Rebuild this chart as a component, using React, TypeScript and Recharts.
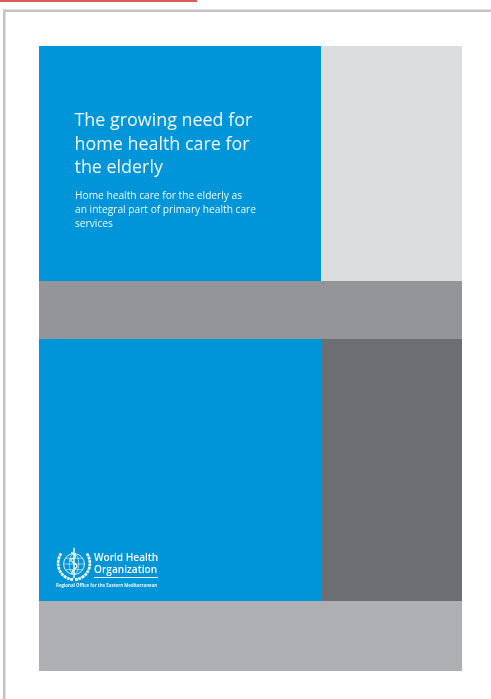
import React from "react";
import { ComposedChart, XAxis, YAxis, ReferenceArea } from "recharts";

const panelNames = ["rule", "topEdge", "leftEdge", "blueTop", "lightTop", "band", "blueLow", "darkLow", "foot"];
const panelX0 = [0, 3, 3, 39, 321, 39, 39, 321, 39];
const panelX1 = [197, 491, 5.5, 321, 462, 462, 321, 462, 462];
const panelY0 = [0, 9.5, 9.5, 46, 46, 281, 339, 339, 601];
const panelY1 = [2, 12, 699, 281, 281, 339, 601, 601, 671];
const panelFill = ["#DE5A5A", "#C4C4C4", "#C4C4C4", "#0095D9", "#DCDDDF", "#939598", "#0095D9", "#6D6E71", "#ADAFB2"];

const titleLines = ["The growing need for", "home health care for", "the elderly"];
const subtitleLines = ["Home health care for the elderly as", "an integral part of primary health care", "services"];
const orgLines = ["World Health", "Organization"];
const regionLine = "Regional Office for the Eastern Mediterranean";

const chartData = [{ x: 0, y: 0 }, { x: 491, y: 699 }];
const font = "'Open Sans', sans-serif";

const Line = ({ top, left, size, weight, children, color = "#F2FAFE", ls = 0 }: any) => (
  <div
    style={{
      position: "absolute",
      top,
      left,
      fontFamily: font,
      fontSize: size,
      fontWeight: weight,
      lineHeight: 1,
      color,
      letterSpacing: ls,
      whiteSpace: "nowrap",
      filter: "blur(0.3px)",
    }}
  >
    {children}
  </div>
);

const Emblem = () => (
  <svg
    width={38}
    height={38}
    viewBox="0 0 40 40"
    style={{ position: "absolute", left: 54.5, top: 545, filter: "blur(0.45px)" }}
    fill="none"
    stroke="#fff"
  >
    <circle cx={20} cy={20} r={11} strokeWidth={0.9} />
    <ellipse cx={20} cy={20} rx={5} ry={11} strokeWidth={0.6} />
    <path d="M9 20H31M11 14H29M11 26H29" strokeWidth={0.6} />
    <path d="M20 3V35" strokeWidth={1.5} />
    <path d="M17 8C23 10 23 13 17 15C13 17 25 19 23 23C21 26 17 26 18 30" strokeWidth={1.3} />
    <path d="M6.5 9C1.5 16 2 27 10 33C13 35.5 16 36 19 36.5" strokeWidth={2.8} strokeDasharray="3 0.7" />
    <path d="M33.5 9C38.5 16 38 27 30 33C27 35.5 24 36 21 36.5" strokeWidth={2.8} strokeDasharray="3 0.7" />
  </svg>
);

export default function App() {
  return (
    <div style={{ position: "absolute", left: 0, top: 0, width: 491, height: 699, overflow: "hidden", background: "#fff" }}>
      <ComposedChart width={491} height={699} data={chartData} margin={{ top: 0, right: 0, bottom: 0, left: 0 }}>
        <XAxis type="number" dataKey="x" domain={[0, 491]} hide />
        <YAxis type="number" dataKey="y" domain={[0, 699]} reversed hide />
        {panelNames.map((name, i) => (
          <ReferenceArea
            key={name}
            x1={panelX0[i]}
            x2={panelX1[i]}
            y1={panelY0[i]}
            y2={panelY1[i]}
            fill={panelFill[i]}
            fillOpacity={1}
            stroke="none"
            ifOverflow="visible"
          />
        ))}
      </ComposedChart>
      {titleLines.map((t, i) => (
        <Line key={t} top={111 + i * 23.6} left={74.5} size={17.9} weight={400}>
          {t}
        </Line>
      ))}
      {subtitleLines.map((t, i) => (
        <Line key={t} top={190 + i * 14} left={75} size={10.2} weight={400}>
          {t}
        </Line>
      ))}
      <Emblem />
      {orgLines.map((t, i) => (
        <Line key={t} top={552 + i * 12.4} left={94} size={10.1} weight={600} color="#fff">
          {t}
        </Line>
      ))}
      <div style={{ position: "absolute", left: 94, top: 577, width: 64, height: 1, background: "#E8F6FC" }} />
      <Line top={583} left={56} size={4.4} weight={700} color="#E8F6FC">
        {regionLine}
      </Line>
    </div>
  );
}
